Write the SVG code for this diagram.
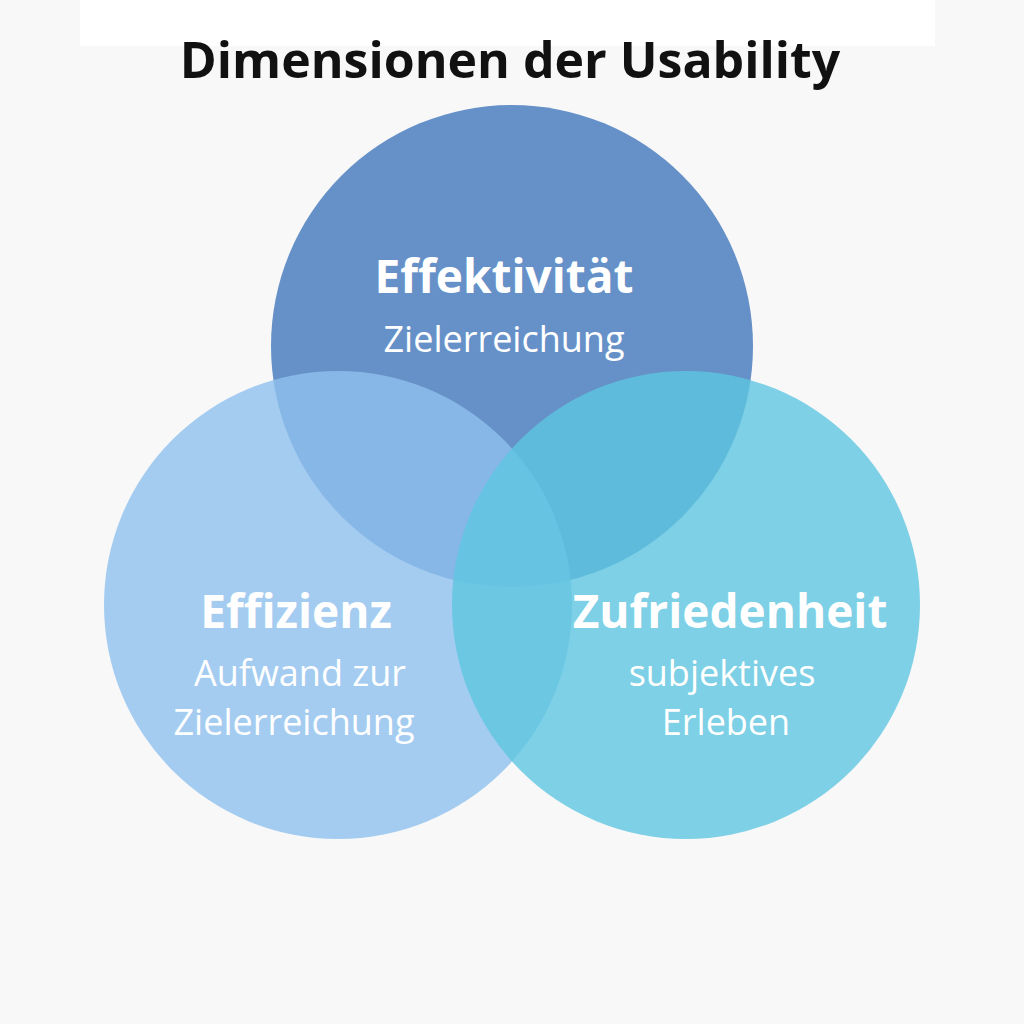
<svg xmlns="http://www.w3.org/2000/svg" width="1024" height="1024" viewBox="0 0 1024 1024">
<style>
.t{font-family:"Open Sans","Noto Sans",sans-serif;fill:#fff;text-anchor:middle}
.h{font-size:46px;font-weight:bold}
.s{font-size:36px}
</style>
<rect width="1024" height="1024" fill="#f8f8f8"/>
<rect x="80" y="0" width="855" height="46" fill="#ffffff"/>
<text x="510" y="78" font-family="'Open Sans','Noto Sans',sans-serif" font-size="50" font-weight="bold" fill="#111" text-anchor="middle">Dimensionen der Usability</text>
<g id="effektivitaet"><circle cx="512" cy="346" r="241" fill="#5585c2" fill-opacity="0.9"/></g>
<g id="effizienz"><circle cx="338" cy="605" r="234" fill="#8ec0ee" fill-opacity="0.8"/></g>
<g id="zufriedenheit"><circle cx="686" cy="605" r="234" fill="#5ec5e0" fill-opacity="0.8"/></g>
<g id="labels">
<text class="t h" x="504" y="293">Effektivität</text>
<text class="t s" x="504" y="352">Zielerreichung</text>
<text class="t h" x="296" y="628">Effizienz</text>
<text class="t s" x="300" y="686">Aufwand zur</text>
<text class="t s" x="294" y="735">Zielerreichung</text>
<text class="t h" x="730" y="628">Zufriedenheit</text>
<text class="t s" x="722" y="686">subjektives</text>
<text class="t s" x="726" y="735">Erleben</text>
</g>
</svg>
